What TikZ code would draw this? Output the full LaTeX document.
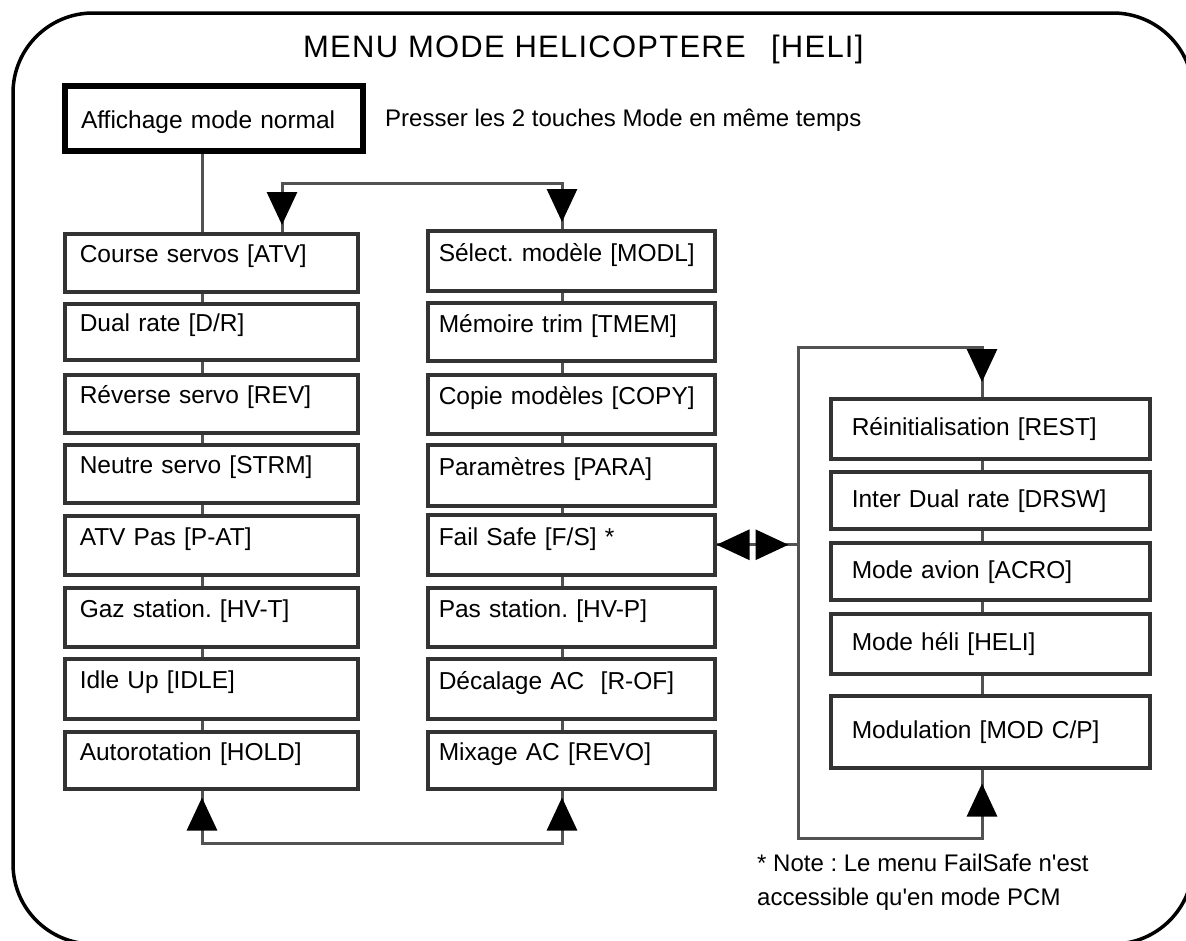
\documentclass[tikz,border=0pt]{standalone}
\usepackage{fontspec}
\setmainfont{Liberation Sans}
\newfontfamily\plainfont{Liberation Sans}
\usetikzlibrary{arrows.meta,calc}
\frenchspacing
\begin{document}
\begin{tikzpicture}[x=1pt,y=-1pt,
  boxbase/.style={draw=black!80, line width=3.5pt, rectangle, fill=white, anchor=north west,
    inner ysep=0pt, align=left, font=\fontsize{24.5}{28}\selectfont},
  lbox/.style={boxbase, inner xsep=15pt, text width=263pt, text height=17pt, text depth=17pt},
  mbox/.style={boxbase, inner xsep=11pt, text width=265pt, text height=17pt, text depth=16pt},
  rbox/.style={boxbase, inner xsep=21pt, text width=277pt, text height=24pt, text depth=10pt},
  conn/.style={draw=black!68, line width=3pt},
  arr/.style={-{Triangle[length=33pt,width=30pt,color=black]}},
  txt/.style={inner sep=0pt, anchor=base west, font=\fontsize{24}{30}\selectfont}
]
\useasboundingbox (0,0) rectangle (1186,940);
% outer frame
\draw[line width=3.5pt, rounded corners=80pt] (13,13) rectangle (1193,944);

% title and notes
\node[inner sep=0pt, anchor=base west, font=\fontsize{31}{36}\selectfont\addfontfeature{LetterSpace=4}] (title) at (303,57) {MENU MODE HELICOPTERE\hspace{0.5em} [HELI]};
\node[txt] (press) at (385,126) {Presser les 2 touches Mode en même temps};
\node[txt, align=left, font=\plainfont\fontsize{24}{34}\selectfont] (note) at (757,905) {* Note : Le menu FailSafe n'est\\accessible qu'en mode PCM};

% start box
\node[draw=black, line width=6pt, rectangle, anchor=north west, inner xsep=16pt, inner ysep=0pt,
  text width=266pt, text height=25pt, text depth=6pt, minimum height=65pt, align=left,
  font=\fontsize{24.5}{28}\selectfont] (aff) at (62,83) {Affichage mode normal};

% left column
\node[lbox, minimum height=58pt] (l1) at (63,232) {Course servos [ATV]};
\node[lbox, minimum height=56pt] (l2) at (63,302) {Dual rate [D/R]};
\node[lbox, minimum height=58pt] (l3) at (63,373) {Réverse servo [REV]};
\node[lbox, minimum height=58pt] (l4) at (63,443) {Neutre servo [STRM]};
\node[lbox, minimum height=59pt] (l5) at (63,514) {ATV Pas [P-AT]};
\node[lbox, minimum height=59pt] (l6) at (63,586) {Gaz station. [HV-T]};
\node[lbox, minimum height=60pt] (l7) at (63,657) {Idle Up [IDLE]};
\node[lbox, minimum height=57pt] (l8) at (63,730) {Autorotation [HOLD]};

% middle column
\node[mbox, minimum height=60pt] (m1) at (426,229) {Sélect. modèle [MODL]};
\node[mbox, minimum height=58pt] (m2) at (426,301) {Mémoire trim [TMEM]};
\node[mbox, minimum height=59pt] (m3) at (426,373) {Copie modèles [COPY]};
\node[mbox, minimum height=61pt] (m4) at (426,443) {Paramètres [PARA]};
\node[mbox, minimum height=60pt] (m5) at (426,513) {Fail Safe [F/S] *};
\node[mbox, minimum height=59pt] (m6) at (426,586) {Pas station. [HV-P]};
\node[mbox, minimum height=60pt] (m7) at (426,657) {Décalage AC\ \ [R-OF]};
\node[mbox, minimum height=57pt] (m8) at (426,730) {Mixage AC [REVO]};

% right column
\node[rbox, minimum height=60pt] (r1) at (829,397) {Réinitialisation [REST]};
\node[rbox, minimum height=57pt] (r2) at (829,470) {Inter Dual rate [DRSW]};
\node[rbox, minimum height=57pt] (r3) at (829,541) {Mode avion [ACRO]};
\node[rbox, minimum height=60pt] (r4) at (829,612) {Mode héli [HELI]};
\node[rbox, minimum height=72pt] (r5) at (829,694) {Modulation [MOD C/P]};

% helper coordinates
\coordinate (lx) at (202,0);
\coordinate (mx) at (562,0);
\coordinate (rx) at (982,0);
\coordinate (t1) at (282,183);
\coordinate (t2) at (562,183);
\coordinate (b1) at (202,843);
\coordinate (b2) at (562,843);
\coordinate (q1) at (982,347);
\coordinate (q0) at (798,347);
\coordinate (q3) at (798,838);
\coordinate (q4) at (982,838);

% vertical links in columns
\draw[conn] (aff.south -| lx) -- (l1.north -| lx);
\foreach \a/\b in {l1/l2,l2/l3,l3/l4,l4/l5,l5/l6,l6/l7,l7/l8}
  \draw[conn] (\a.south -| lx) -- (\b.north -| lx);
\foreach \a/\b in {m1/m2,m2/m3,m3/m4,m4/m5,m5/m6,m6/m7,m7/m8}
  \draw[conn] (\a.south -| mx) -- (\b.north -| mx);
\foreach \a/\b in {r1/r2,r2/r3,r3/r4,r4/r5}
  \draw[conn] (\a.south -| rx) -- (\b.north -| rx);

% top connector
\draw[conn] (t1 |- l1.north) -- (t1) -- (t2) -- (t2 |- m1.north);
\draw[conn, arr, shorten >=7pt] (t1) -- (t1 |- l1.north);
\draw[conn, arr, shorten >=7pt] (t2) -- (t2 |- m1.north);

% bottom connector
\draw[conn] (b1 |- l8.south) -- (b1) -- (b2) -- (b2 |- m8.south);
\draw[conn, arr, shorten >=7pt] (b1) -- (b1 |- l8.south);
\draw[conn, arr, shorten >=7pt] (b2) -- (b2 |- m8.south);

% right loop
\draw[conn] (q4 |- r5.south) -- (q4) -- (q3) -- (q0) -- (q1) -- (q1 |- r1.north);
\draw[conn, arr, shorten >=15pt] (q1) -- (q1 |- r1.north);
\draw[conn, arr, shorten >=14pt] (q4) -- (q4 |- r5.south);

% fail safe link
\coordinate (fm) at ($(m5.east)+(38,0)$);
\draw[conn] (m5.east) -- (m5.east -| q0);
\draw[conn, arr] (fm) -- (m5.east);
\draw[conn, arr] (fm) -- ++(34,0);
\end{tikzpicture}
\end{document}
